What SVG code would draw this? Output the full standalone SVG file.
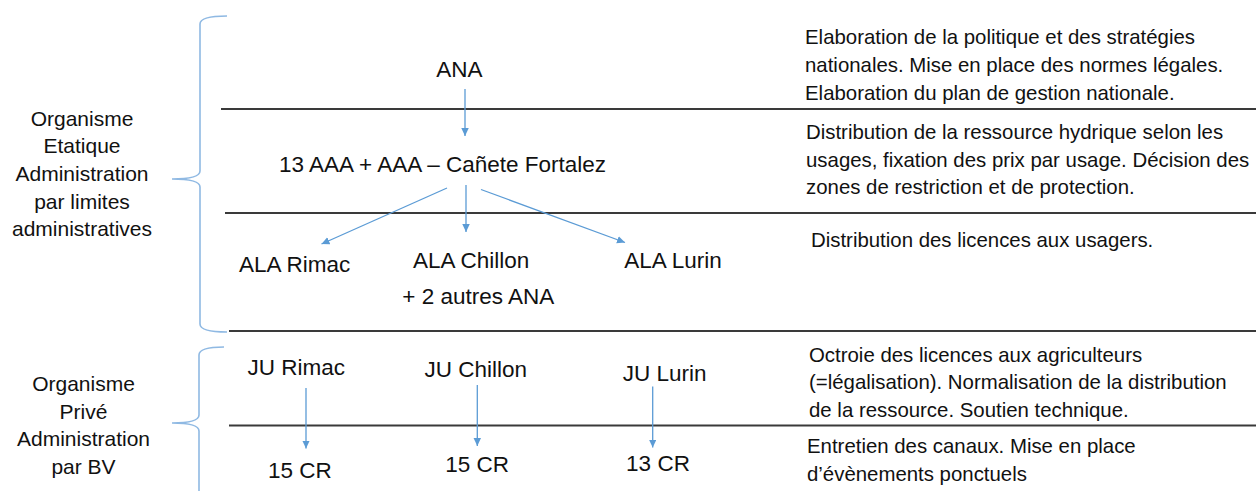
<svg xmlns="http://www.w3.org/2000/svg" width="1256" height="491" viewBox="0 0 1256 491">
<style>
text{font-family:"Liberation Sans",Arial,sans-serif;fill:#111}
.c{font-size:22.5px;text-anchor:middle}
.l{font-size:21px;text-anchor:middle}
.r{font-size:20.4px}
.sep{stroke:#3a3a3a;stroke-width:1.8;fill:none}
.brace{stroke:#8fb9e3;stroke-width:1.6;fill:none}
.arr{stroke:#5b9bd5;stroke-width:1.3;fill:none;marker-end:url(#ah)}
</style>
<defs>
<marker id="ah" markerUnits="userSpaceOnUse" markerWidth="8" markerHeight="8" refX="8" refY="3.75" orient="auto">
<path d="M0,0 L8,3.75 L0,7.5 z" fill="#5b9bd5"/>
</marker>
</defs>
<rect width="1256" height="491" fill="#fff"/>
<g id="separators">
<line class="sep" x1="221" y1="109" x2="1256" y2="109"/>
<line class="sep" x1="225" y1="213" x2="1256" y2="213"/>
<line class="sep" x1="229" y1="331" x2="1256" y2="331"/>
<line class="sep" x1="229" y1="425.5" x2="1256" y2="425.5"/>
</g>
<g id="braces">
<path class="brace" d="M227,16 Q200,16 200,24 L200,171 Q200,179 172,179 Q200,179 200,187 L200,324 Q200,332 227,332"/>
<path class="brace" d="M224,347 Q199,347 199,355 L199,415 Q199,423 172,423 Q199,423 199,431 L199,491"/>
</g>
<g id="label-etatique">
<text class="l" x="82" y="125.5">Organisme</text>
<text class="l" x="82" y="153">Etatique</text>
<text class="l" x="82" y="181">Administration</text>
<text class="l" x="82" y="208.5">par limites</text>
<text class="l" x="82" y="236">administratives</text>
</g>
<g id="label-prive">
<text class="l" x="83.5" y="391">Organisme</text>
<text class="l" x="83.5" y="418.5">Privé</text>
<text class="l" x="83.5" y="446">Administration</text>
<text class="l" x="83.5" y="474">par BV</text>
</g>
<g id="connectors">
<line class="arr" x1="465" y1="89" x2="465" y2="136"/>
<line class="arr" x1="447" y1="188" x2="321.5" y2="244"/>
<line class="arr" x1="466" y1="185" x2="466" y2="232"/>
<line class="arr" x1="481" y1="189.5" x2="625" y2="242.5"/>
<line class="arr" x1="306" y1="388" x2="306" y2="448.5"/>
<line class="arr" x1="477.3" y1="385" x2="477.3" y2="446"/>
<line class="arr" x1="652.7" y1="386.5" x2="652.7" y2="447.5"/>
</g>
<g id="node-ana"><text class="c" x="459.3" y="76.7">ANA</text></g>
<g id="node-aaa"><text class="c" x="442.5" y="171.7">13 AAA + AAA – Cañete Fortalez</text></g>
<g id="node-ala-rimac"><text class="c" x="294.7" y="271.7">ALA Rimac</text></g>
<g id="node-ala-chillon">
<text class="c" x="471.2" y="268.3">ALA Chillon</text>
<text class="c" x="478.3" y="304">+ 2 autres ANA</text>
</g>
<g id="node-ala-lurin"><text class="c" x="673" y="268.3">ALA Lurin</text></g>
<g id="node-ju-rimac"><text class="c" x="296.3" y="375">JU Rimac</text></g>
<g id="node-ju-chillon"><text class="c" x="475.8" y="377.3">JU Chillon</text></g>
<g id="node-ju-lurin"><text class="c" x="664.7" y="380.7">JU Lurin</text></g>
<g id="node-cr-rimac"><text class="c" x="299.8" y="477.7">15 CR</text></g>
<g id="node-cr-chillon"><text class="c" x="477.2" y="471.7">15 CR</text></g>
<g id="node-cr-lurin"><text class="c" x="658" y="471">13 CR</text></g>
<g id="desc-ana">
<text class="r" x="805" y="44.3">Elaboration de la politique et des stratégies</text>
<text class="r" x="805" y="72.3">nationales. Mise en place des normes légales.</text>
<text class="r" x="805" y="100">Elaboration du plan de gestion nationale.</text>
</g>
<g id="desc-aaa">
<text class="r" x="806" y="139">Distribution de la ressource hydrique selon les</text>
<text class="r" x="806" y="166.7">usages, fixation des prix par usage. Décision des</text>
<text class="r" x="806" y="194.3">zones de restriction et de protection.</text>
</g>
<g id="desc-ala">
<text class="r" x="811" y="247">Distribution des licences aux usagers.</text>
</g>
<g id="desc-ju">
<text class="r" x="809" y="361.7">Octroie des licences aux agriculteurs</text>
<text class="r" x="809" y="389.3">(=légalisation). Normalisation de la distribution</text>
<text class="r" x="809" y="416.7">de la ressource. Soutien technique.</text>
</g>
<g id="desc-cr">
<text class="r" x="807" y="453.3">Entretien des canaux. Mise en place</text>
<text class="r" x="807" y="480.7">d’évènements ponctuels</text>
</g>
</svg>
